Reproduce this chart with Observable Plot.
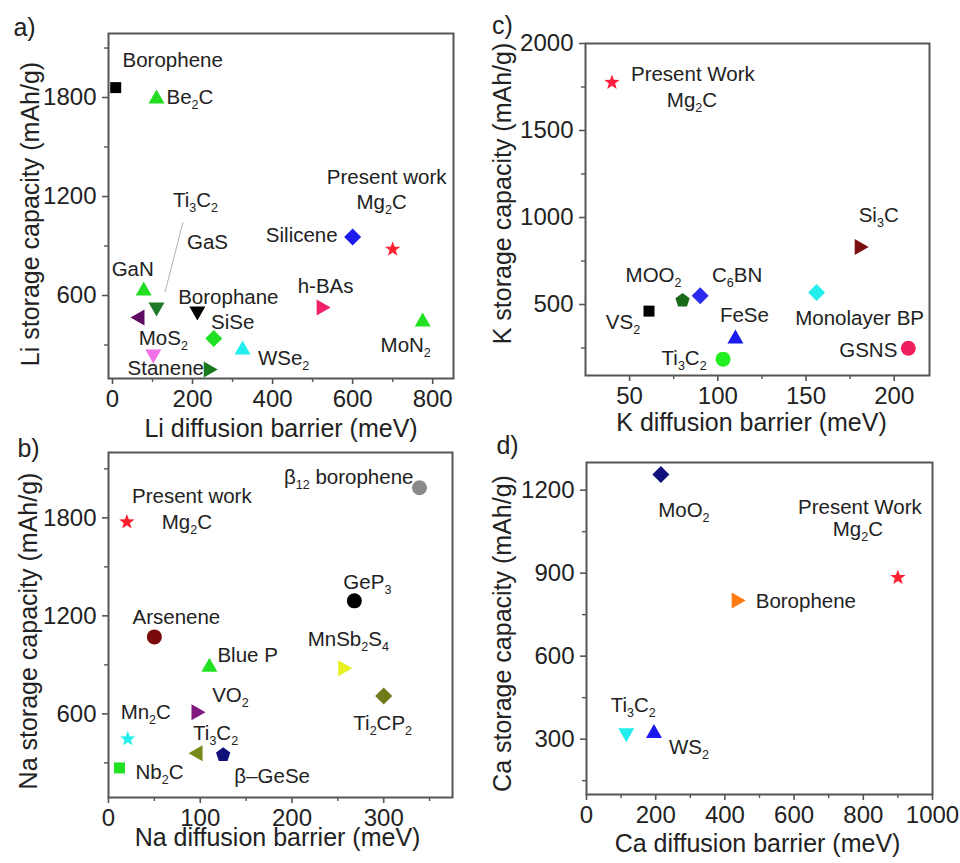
<!DOCTYPE html>
<html>
<head>
<meta charset="utf-8">
<script src="https://cdn.jsdelivr.net/npm/d3@7"></script>
<script src="https://cdn.jsdelivr.net/npm/@observablehq/plot@0.6"></script>
<style>
  html, body { margin: 0; padding: 0; background: #fff; }
  #root { position: relative; width: 960px; height: 863px; background: #fff; font-family: 'Liberation Sans', Arial, sans-serif; }
  .panel { position: absolute; }
</style>
</head>
<body>
<div id="root"></div>
<script>
// ---------------- DATA ----------------
// Panel a) Li
const liMaterial = ["Borophene", "Be_2C", "Silicene", "Mg_2C", "GaN", "Ti_3C_2", "GaS", "Borophane", "h-BAs", "MoN_2", "SiSe", "WSe_2", "MoS_2", "Stanene"];
const liBarrier  = [8, 110, 600, 700, 78, 110, 65, 212, 525, 775, 253, 325, 102, 243];
const liCapacity = [1860, 1800, 954, 880, 636, 521, 467, 497, 527, 448, 339, 279, 236, 151];
const liXTicks = [0, 200, 400, 600, 800];
const liYTicks = [600, 1200, 1800];

// Panel b) Na
const naMaterial = ["Mg_2C", "β_12 borophene", "GeP_3", "Arsenene", "Blue P", "MnSb_2S_4", "Ti_2CP_2", "VO_2", "Mn_2C", "Ti_3C_2", "β–GeSe", "Nb_2C"];
const naBarrier  = [20, 339, 268, 50, 110, 257, 300, 97, 21, 96, 125, 12];
const naCapacity = [1775, 1984, 1292, 1071, 894, 880, 710, 610, 447, 359, 349, 269];
const naXTicks = [0, 100, 200, 300];
const naYTicks = [600, 1200, 1800];

// Panel c) K
const kMaterial = ["Mg_2C", "VS_2", "MOO_2", "C_6BN", "FeSe", "Ti_3C_2", "Monolayer BP", "Si_3C", "GSNS"];
const kBarrier  = [40, 61, 80, 90, 110, 103, 156, 181, 208];
const kCapacity = [1776, 462, 523, 551, 310, 186, 569, 831, 249];
const kXTicks = [50, 100, 150, 200];
const kYTicks = [500, 1000, 1500, 2000];

// Panel d) Ca
const caMaterial = ["MoO_2", "Mg_2C", "Borophene", "Ti_3C_2", "WS_2"];
const caBarrier  = [215, 900, 437, 115, 195];
const caCapacity = [1257, 884, 801, 318, 326];
const caXTicks = [0, 200, 400, 600, 800, 1000];
const caYTicks = [300, 600, 900, 1200];

// ---------------- STYLE (shape, colour, label offset) ----------------
const liStyle = [
  ["square", "#000000", 57, -27, "middle"],
  ["triUp", "#22dd22", 10, 0, "start"],
  ["diamond", "#1c1cf0", -15, -2, "end"],
  ["star", "#ff1f2f", -11, -47, "middle"],
  ["triUp", "#22dd22", -11, -20, "middle"],
  ["triDown", "#1f7a2a", 39, -108, "middle"],
  ["triLeft", "#5e0c62", 69, -75, "middle"],
  ["triDown", "#000000", 31, -15, "middle"],
  ["triRight", "#f0206a", 3, -21, "middle"],
  ["triUp", "#22e022", -17, 25, "middle"],
  ["diamond", "#22e022", 19, -16, "middle"],
  ["triUp", "#22eeee", 41, 10, "middle"],
  ["triDown", "#f070e8", 10, -17, "middle"],
  ["triRight", "#1a7a1a", -44, -1, "middle"]
];
const naStyle = [
  ["star", "#ff1f2f", 60, 1, "middle"],
  ["circle", "#8a8a8a", -6, -10, "end"],
  ["circle", "#000000", 13, -18, "middle"],
  ["circle", "#7a0a0a", 22, -19, "middle"],
  ["triUp", "#22e022", 8, -10, "start"],
  ["triRight", "#e8f020", 4, -29, "middle"],
  ["diamond", "#707a1a", -1, 28, "middle"],
  ["triRight", "#801880", 33, -17, "middle"],
  ["star", "#22eeee", 18, -26, "middle"],
  ["triLeft", "#7a8a1a", 19, -20, "middle"],
  ["pentagon", "#10107a", 49, 22, "middle"],
  ["square", "#22e022", 40, 5, "middle"]
];
const kStyle = [
  ["star", "#ff1f3f", 80, 18, "middle"],
  ["square", "#000000", -26, 11, "middle"],
  ["pentagon", "#1a6a1a", -29, -25, "middle"],
  ["diamond", "#2a2af0", 37, -20, "middle"],
  ["triUp", "#1a1aee", 9, -22, "middle"],
  ["circle", "#22ee22", -39, -1, "middle"],
  ["diamond", "#22eeee", 43, 26, "middle"],
  ["triRight", "#7a1010", 18, -31, "middle"],
  ["circle", "#f02060", -11, 2, "end"]
];
const caStyle = [
  ["diamond", "#10107a", 23, 36, "middle"],
  ["star", "#ff1f2f", -40, -48, "middle"],
  ["triRight", "#ff7a10", 18, 1, "start"],
  ["triDown", "#22eeee", 7, -29, "middle"],
  ["triUp", "#1a1aee", 35, 15, "middle"]
];

// ---------------- SYMBOLS ----------------
function poly(pts) {
  return {draw(ctx, size) {
    const k = Math.sqrt(size / Math.PI) / 7;
    pts.forEach(([x, y], i) => i ? ctx.lineTo(x * k, y * k) : ctx.moveTo(x * k, y * k));
    ctx.closePath();
  }};
}
function regular(n, r, rot) {
  const p = [];
  for (let i = 0; i < n; i++) { const a = rot + i * 2 * Math.PI / n; p.push([r * Math.sin(a), -r * Math.cos(a)]); }
  return p;
}
function starPts(ro, ri) {
  const p = [];
  for (let i = 0; i < 10; i++) { const r = i % 2 ? ri : ro; const a = i * Math.PI / 5; p.push([r * Math.sin(a), -r * Math.cos(a)]); }
  return p;
}
const SYM = {
  square: poly([[-5.5, -5.5], [5.5, -5.5], [5.5, 5.5], [-5.5, 5.5]]),
  triUp: poly([[0, -8], [8, 6], [-8, 6]]),
  triDown: poly([[0, 8], [8, -6], [-8, -6]]),
  triLeft: poly([[-8, 0], [6, -8], [6, 8]]),
  triRight: poly([[8, 0], [-6, -8], [-6, 8]]),
  diamond: poly([[0, -8.5], [8.5, 0], [0, 8.5], [-8.5, 0]]),
  star: poly(starPts(8, 3.3)),
  pentagon: poly(regular(5, 7.5, 0)),
  circle: {draw(ctx, size) { const r = 7.5 * Math.sqrt(size / Math.PI) / 7; ctx.moveTo(r, 0); ctx.arc(0, 0, r, 0, 2 * Math.PI); }}
};

const FONT = "'Liberation Sans', Arial, sans-serif";
const LABEL_SIZE = 20.5;
const AXIS_COLOR = "#555555";

function subscripts(svg) {
  const NS = "http://www.w3.org/2000/svg";
  svg.querySelectorAll("text").forEach(t => {
    const s = t.textContent;
    if (!s.includes("_")) return;
    const parts = s.split(/_(\d+)/);
    while (t.firstChild) t.removeChild(t.firstChild);
    let shifted = false;
    parts.forEach((p, i) => {
      if (!p) return;
      const ts = document.createElementNS(NS, "tspan");
      ts.textContent = p;
      if (i % 2 === 1) {
        ts.setAttribute("font-size", "12.5");
        if (!shifted) { ts.setAttribute("dy", "5"); shifted = true; }
      } else if (shifted) {
        ts.setAttribute("dy", "-5"); shifted = false;
      }
      t.appendChild(ts);
    });
  });
}

function panel(cfg) {
  const data = cfg.material.map((m, i) => ({name: m, x: cfg.barrier[i], y: cfg.capacity[i]}));
  const fmt = d => String(d);
  const marks = [
    Plot.frame({stroke: AXIS_COLOR, strokeWidth: 2}),
    Plot.axisX({ticks: cfg.xTicks, tickSize: 6, tickPadding: 5, tickFormat: fmt, fontSize: 24, label: null, stroke: AXIS_COLOR, strokeWidth: 1.6}),
    Plot.axisX({ticks: cfg.xMinor, tickSize: 4, tickFormat: () => "", label: null, stroke: AXIS_COLOR, strokeWidth: 1.4}),
    Plot.axisY({ticks: cfg.yTicks, tickSize: 6, tickPadding: 6, tickFormat: fmt, fontSize: 24, label: null, stroke: AXIS_COLOR, strokeWidth: 1.6}),
    Plot.axisY({ticks: cfg.yMinor, tickSize: 4, tickFormat: () => "", label: null, stroke: AXIS_COLOR, strokeWidth: 1.4}),
    Plot.text([cfg.xTitle], {frameAnchor: "bottom", text: d => d, textAnchor: "middle", lineAnchor: "middle", dx: cfg.xt[0], dy: cfg.xt[1], fontSize: 25}),
    Plot.text([cfg.yTitle], {frameAnchor: "left", text: d => d, textAnchor: "middle", lineAnchor: "middle", rotate: -90, dx: cfg.yt[0], dy: cfg.yt[1], fontSize: 25}),
    Plot.text([cfg.letter], {frameAnchor: "top-left", text: d => d, textAnchor: "middle", lineAnchor: "middle", dx: cfg.lt[0], dy: cfg.lt[1], fontSize: 25})
  ];
  data.forEach((d, i) => {
    const [shape, color, dx, dy, anchor] = cfg.style[i];
    marks.push(Plot.dot([d], {x: "x", y: "y", r: 7, symbol: SYM[shape], fill: color, stroke: "none"}));
    marks.push(Plot.text([d], {x: "x", y: "y", text: "name", dx, dy, textAnchor: anchor, lineAnchor: "middle", fontSize: LABEL_SIZE, fill: "#222"}));
  });
  if (cfg.note) {
    const d = data[cfg.note.index];
    marks.push(Plot.text([d], {x: "x", y: "y", text: () => cfg.note.text, dx: cfg.note.dx, dy: cfg.note.dy, textAnchor: cfg.note.anchor, lineAnchor: "middle", fontSize: LABEL_SIZE, fill: "#222"}));
  }
  const [mt, mr, mb, ml] = cfg.margin;
  const plot = Plot.plot({
    width: cfg.width, height: cfg.height,
    marginTop: mt, marginRight: mr, marginBottom: mb, marginLeft: ml,
    x: {domain: cfg.xDomain},
    y: {domain: cfg.yDomain},
    style: {fontFamily: FONT, fontSize: "24px", color: "#222", background: "transparent", overflow: "visible"},
    marks
  });
  subscripts(plot);

  if (cfg.leader) {
    const xs = plot.scale("x"), ys = plot.scale("y");
    const dd = data[cfg.leader.index];
    const px = xs.apply(dd.x), py = ys.apply(dd.y);
    const l = cfg.leader;
    d3.select(plot).append("line")
      .attr("x1", px + l.from[0]).attr("y1", py + l.from[1])
      .attr("x2", px + l.to[0]).attr("y2", py + l.to[1])
      .attr("stroke", "#aaa").attr("stroke-width", 0.9);
  }
  const div = document.createElement("div");
  div.className = "panel";
  div.style.left = cfg.left + "px";
  div.style.top = cfg.top + "px";
  div.appendChild(plot);
  document.getElementById("root").appendChild(div);
}

panel({
  left: 0, top: 0, width: 480, height: 430, margin: [33, 27, 52, 108],
  material: liMaterial, barrier: liBarrier, capacity: liCapacity, style: liStyle,
  xDomain: [-10, 852], yDomain: [97, 2188],
  xTicks: liXTicks, xMinor: [100, 300, 500, 700], yTicks: liYTicks, yMinor: [300, 900, 1500, 2100],
  xTitle: "Li diffusion barrier (meV)", yTitle: "Li storage capacity (mAh/g)", letter: "a)",
  xt: [0, 50], yt: [-78, 8], lt: [-84, -6],
  note: {index: 3, text: "Present work", dx: -6, dy: -72, anchor: "middle"},
  leader: {index: 5, from: [9, -16], to: [27, -86]}
});

panel({
  left: 480, top: 0, width: 480, height: 430, margin: [43, 31, 55, 105],
  material: kMaterial, barrier: kBarrier, capacity: kCapacity, style: kStyle,
  xDomain: [25, 220], yDomain: [92, 2000],
  xTicks: kXTicks, xMinor: [75, 125, 175], yTicks: kYTicks, yMinor: [250, 750, 1250, 1750],
  xTitle: "K diffusion barrier (meV)", yTitle: "K storage capacity (mAh/g)", letter: "c)",
  xt: [-6, 47], yt: [-83, -16], lt: [-83, -18],
  note: {index: 0, text: "Present Work", dx: 19, dy: -8, anchor: "start"}
});

panel({
  left: 0, top: 430, width: 480, height: 433, margin: [22, 28, 66, 108],
  material: naMaterial, barrier: naBarrier, capacity: naCapacity, style: naStyle,
  xDomain: [0, 375], yDomain: [88, 2200],
  xTicks: naXTicks, xMinor: [50, 150, 250, 350], yTicks: naYTicks, yMinor: [300, 900, 1500, 2100],
  xTitle: "Na diffusion barrier (meV)", yTitle: "Na storage capacity (mAh/g)", letter: "b)",
  xt: [-3, 40], yt: [-80, 6], lt: [-80, -4],
  note: {index: 0, text: "Present work", dx: 65, dy: -25, anchor: "middle"}
});

panel({
  left: 480, top: 430, width: 480, height: 433, margin: [32, 28, 69, 106],
  material: caMaterial, barrier: caBarrier, capacity: caCapacity, style: caStyle,
  xDomain: [0, 1000], yDomain: [100, 1300],
  xTicks: caXTicks, xMinor: [100, 300, 500, 700, 900], yTicks: caYTicks, yMinor: [150, 450, 750, 1050],
  xTitle: "Ca diffusion barrier (meV)", yTitle: "Ca storage capacity (mAh/g)", letter: "d)",
  xt: [-2, 49], yt: [-84, 5], lt: [-79, -17],
  note: {index: 1, text: "Present Work", dx: -38, dy: -70, anchor: "middle"}
});
</script>
</body>
</html>
